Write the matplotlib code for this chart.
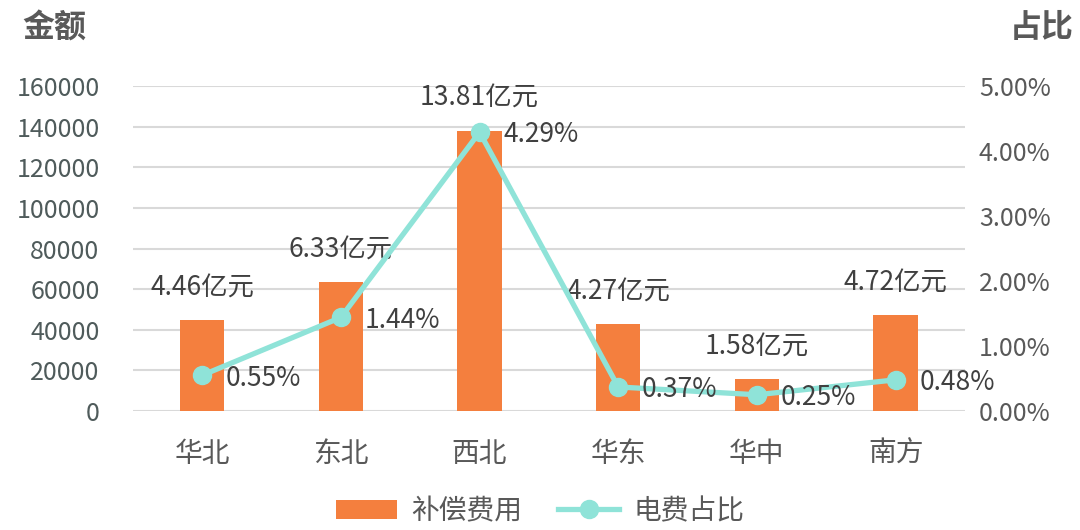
import numpy as np
import matplotlib.pyplot as plt
from matplotlib.ticker import FuncFormatter

plt.rcParams['font.family'] = ['Noto Sans CJK SC', 'DejaVu Sans']

# data
regions = ['华北', '东北', '西北', '华东', '华中', '南方']
amount = [44600, 63300, 138100, 42700, 15800, 47200]
amount_labels = ['4.46亿元', '6.33亿元', '13.81亿元', '4.27亿元', '1.58亿元', '4.72亿元']
share = [0.55, 1.44, 4.29, 0.37, 0.25, 0.48]

bar_color = '#F47F3E'
line_color = '#8FE3D8'
txt = '#595959'
dark = '#404040'

fig = plt.figure(figsize=(10.8, 5.3), dpi=100)
ax = fig.add_axes([0.123, 0.2245, 0.7705, 0.6132])
ax2 = ax.twinx()

x = np.arange(len(regions))
ax.bar(x, amount, width=0.32, color=bar_color, zorder=2, label='补偿费用')
ax.set_ylim(0, 160000)
ax.set_yticks(np.arange(0, 160001, 20000))
ax.set_xlim(-0.5, 5.5)
ax.set_xticks(x)
ax.set_xticklabels(regions, fontsize=20, color=txt)
ax.tick_params(axis='y', labelsize=18, labelcolor='#4f5b5b', length=0, pad=24)
ax.tick_params(axis='x', length=0, pad=20)
ax.grid(axis='y', color='#d9d9d9', linewidth=1.5, zorder=0)
ax.set_axisbelow(True)

for i, lab in enumerate(amount_labels):
    ax.annotate(lab, (x[i], amount[i]), xytext=(0, 23), textcoords='offset points',
                ha='center', va='center', fontsize=19, color=dark)

ax2.plot(x, share, color=line_color, linewidth=3.8, marker='o', markersize=13,
         zorder=3, label='电费占比')
ax2.set_ylim(0, 5)
ax2.set_yticks(np.arange(0, 5.01, 1))
ax2.yaxis.set_major_formatter(FuncFormatter(lambda v, p: f'{v:.2f}%'))
ax2.tick_params(axis='y', labelsize=18, labelcolor=txt, length=0, pad=10)

for i, v in enumerate(share):
    ax2.annotate(f'{v:.2f}%', (x[i], v), xytext=(17, -2), textcoords='offset points',
                 ha='left', va='center', fontsize=19, color=dark)

for a in (ax, ax2):
    for s in a.spines.values():
        s.set_visible(False)

fig.text(0.05, 0.947, '金额', fontsize=23, fontweight='bold', color=txt, ha='center', va='center')
fig.text(0.965, 0.947, '占比', fontsize=23, fontweight='bold', color=txt, ha='center', va='center')

h1, l1 = ax.get_legend_handles_labels()
h2, l2 = ax2.get_legend_handles_labels()
fig.legend(h1 + h2, l1 + l2, loc='lower center', bbox_to_anchor=(0.5, -0.04), ncol=2,
           frameon=False, fontsize=20, labelcolor=txt, handlelength=2.2, columnspacing=1.3,
           handletextpad=0.5)

fig.savefig('out.png', dpi=100)
